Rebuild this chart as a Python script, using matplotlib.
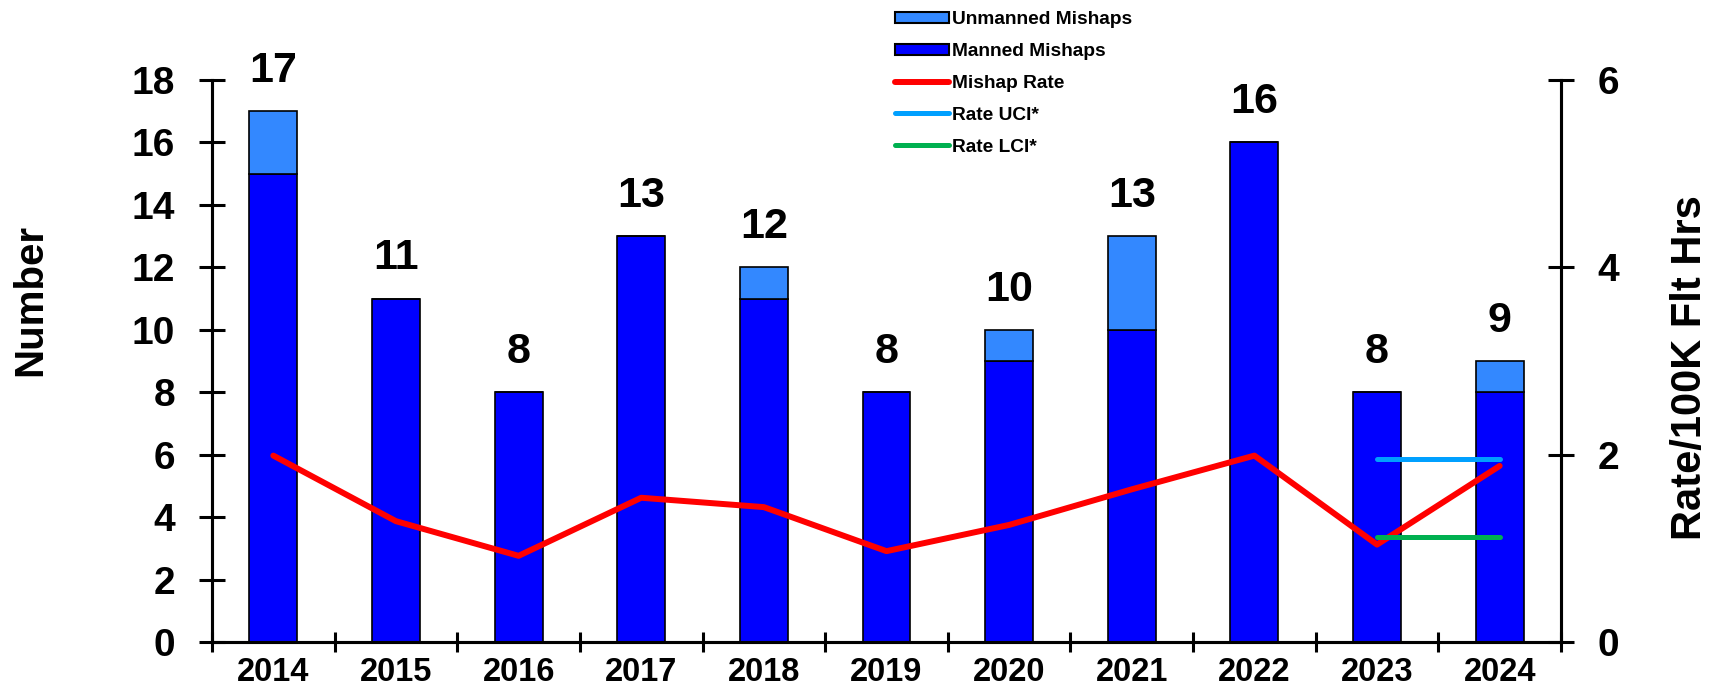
import numpy as np
import matplotlib
matplotlib.use("Agg")
import matplotlib.pyplot as plt
from matplotlib.patches import Patch
from matplotlib.lines import Line2D

plt.rcParams["font.family"] = ["Liberation Sans", "DejaVu Sans"]
plt.rcParams["font.weight"] = "bold"

# data
years = ["2014", "2015", "2016", "2017", "2018", "2019", "2020", "2021", "2022", "2023", "2024"]
manned = [15, 11, 8, 13, 11, 8, 9, 10, 16, 8, 8]
unmanned = [2, 0, 0, 0, 1, 0, 1, 3, 0, 0, 1]
rate = [1.99, 1.29, 0.92, 1.54, 1.44, 0.97, 1.25, 1.63, 1.99, 1.04, 1.88]
uci = [1.95, 1.95]   # 2023-2024
lci = [1.12, 1.12]

totals = [m + u for m, u in zip(manned, unmanned)]
x = np.arange(len(years))

fig = plt.figure(figsize=(17.21, 6.98), dpi=100)
ax = fig.add_axes([212 / 1721, 1 - 642 / 698, (1561 - 212) / 1721, (642 - 80) / 698])
ax2 = ax.twinx()

c_manned = "#0000FF"
c_unmanned = "#3388FF"
ax.bar(x, manned, width=0.39, color=c_manned, edgecolor="black", linewidth=1.2)
ax.bar(x, unmanned, width=0.39, bottom=manned, color=c_unmanned, edgecolor="black", linewidth=1.2)

for xi, t in zip(x, totals):
    ax.annotate(str(t), (xi, t), xytext=(0, 21), textcoords="offset points",
                ha="center", va="baseline", fontsize=31, fontweight="bold")

ax.set_xlim(-0.5, len(years) - 0.5)
ax.set_ylim(0, 18)
ax.set_yticks(range(0, 19, 2))
ax.tick_params(axis="y", direction="inout", length=19, width=2.2, pad=17, labelsize=28)
ax.set_xticks(x)
ax.set_xticklabels(years)
ax.tick_params(axis="x", which="major", length=0, pad=11, labelsize=23.5)
ax.set_xticks(np.arange(-0.5, len(years), 1), minor=True)
ax.tick_params(axis="x", which="minor", direction="inout", length=15, width=2.2)

ax2.plot(x, rate, color="#FF0000", linewidth=4.3, solid_capstyle="round")
ax2.plot(x[-2:], uci, color="#00A0FF", linewidth=3.6, solid_capstyle="round")
ax2.plot(x[-2:], lci, color="#00B050", linewidth=3.6, solid_capstyle="round")
ax2.set_ylim(0, 6)
ax2.set_yticks([0, 2, 4, 6])
ax2.tick_params(axis="y", direction="inout", length=19, width=2.2, pad=17, labelsize=28)

for a in (ax, ax2):
    a.spines["top"].set_visible(False)
    for s in ("left", "right", "bottom"):
        a.spines[s].set_linewidth(2.2)

fig.text(30 / 1721, 1 - 300 / 698, "Number", rotation=90, ha="center", va="center",
         fontsize=29, fontweight="bold")
fig.text(1690 / 1721, 1 - 368 / 698, "Rate/100K Flt Hrs", rotation=90, ha="center", va="center",
         fontsize=30, fontweight="bold")

handles = [
    Patch(facecolor=c_unmanned, edgecolor="black", linewidth=1.5),
    Patch(facecolor=c_manned, edgecolor="black", linewidth=1.5),
    Line2D([], [], color="#FF0000", linewidth=4.3, solid_capstyle="round"),
    Line2D([], [], color="#00A0FF", linewidth=3.6, solid_capstyle="round"),
    Line2D([], [], color="#00B050", linewidth=3.6, solid_capstyle="round"),
]
labels = ["Unmanned Mishaps", "Manned Mishaps", "Mishap Rate", "Rate UCI*", "Rate LCI*"]
fig.legend(handles, labels, loc="upper left", bbox_to_anchor=(895 / 1721, 1 - 11.5 / 698),
           frameon=False, fontsize=13.8, handlelength=2.8, handleheight=0.55,
           handletextpad=0.2, labelspacing=0.77, borderpad=0, borderaxespad=0)

fig.savefig("out.png", dpi=100)
